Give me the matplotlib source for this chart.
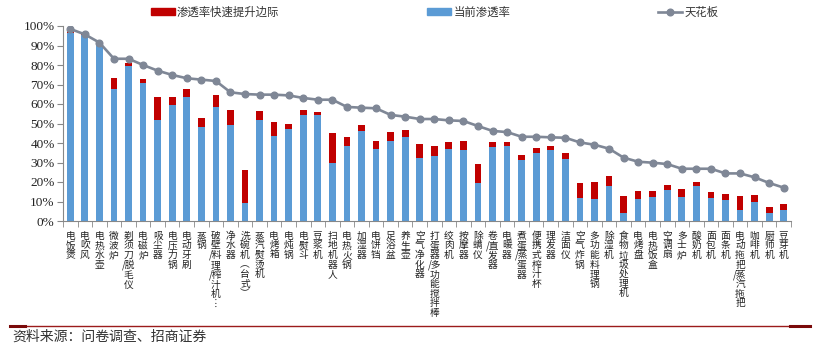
import matplotlib
matplotlib.use('Agg')
import matplotlib.pyplot as plt
from matplotlib.lines import Line2D
from matplotlib.patches import Patch
from matplotlib.ticker import FuncFormatter, MultipleLocator, FixedLocator
import numpy as np

plt.rcParams['font.family'] = ['Noto Sans CJK SC', 'DejaVu Sans']

# data
categories = ['电饭煲', '电吹风', '电热水壶', '微波炉', '剃须刀/脱毛仪', '电磁炉', '吸尘器', '电压力锅',
              '电动牙刷', '蒸锅', '破壁/料理/榨汁机︙', '净水器', '洗碗机︵台式︶', '蒸汽熨烫机', '电烤箱',
              '电炖锅', '电熨斗', '豆浆机', '扫地机器人', '电热火锅', '加湿器', '电饼铛', '足浴盆', '养生壶',
              '空气净化器', '打蛋器/多功能搅拌棒', '绞肉机', '按摩器', '除螨仪', '卷/直发器', '电暖器',
              '煮蛋/蒸蛋器', '便携式榨汁杯', '理发器', '洁面仪', '空气炸锅', '多功能料理锅', '除湿机',
              '食物垃圾处理机', '电烤盘', '电热饭盒', '空调扇', '多士炉', '酸奶机', '面包机', '面条机',
              '电动拖把/蒸汽拖把', '咖啡机', '厨师机', '豆芽机']

current = [96.2, 95.5, 91.0, 67.5, 79.7, 70.6, 51.8, 59.7, 63.4, 48.0,
           58.5, 49.1, 9.1, 51.8, 43.6, 47.0, 54.4, 54.4, 29.6, 38.6,
           46.3, 36.8, 41.2, 42.9, 32.5, 33.3, 36.8, 36.2, 19.5, 37.9,
           38.6, 31.1, 34.7, 36.4, 31.8, 12.0, 11.5, 18.1, 3.9, 11.3,
           12.3, 16.1, 12.3, 18.1, 11.6, 10.6, 5.6, 9.7, 4.1, 5.6]

boost = [1.2, 0.3, 0.3, 5.8, 1.2, 2.0, 11.6, 3.7, 4.1, 4.8,
         6.3, 7.7, 16.9, 4.6, 7.0, 2.9, 2.5, 1.7, 15.5, 4.5,
         3.1, 4.2, 4.3, 3.9, 7.2, 5.3, 3.9, 5.0, 9.9, 2.4,
         1.7, 2.9, 2.7, 2.1, 2.9, 7.5, 8.7, 4.8, 8.9, 4.3,
         3.1, 2.4, 4.1, 2.1, 3.4, 3.1, 7.2, 3.6, 3.1, 2.9]

ceiling = [98.5, 95.7, 91.5, 83.2, 83.2, 80.0, 77.1, 74.9, 73.2, 72.5,
           71.8, 66.0, 65.1, 64.8, 64.8, 64.4, 63.1, 62.2, 62.2, 58.5,
           58.1, 57.8, 54.4, 53.5, 52.3, 52.3, 51.6, 51.3, 48.7, 46.2,
           45.6, 43.2, 43.2, 42.9, 42.7, 40.3, 39.1, 37.1, 32.5, 30.4,
           29.9, 29.2, 26.8, 26.8, 26.8, 24.4, 24.4, 22.4, 19.5, 17.1]

blue = '#5B9BD5'
red = '#C00000'
gray = '#7F8796'
axcol = '#888888'


def vertical(label):
    # one char per line, a slash shares the line with the char after it
    lines = []
    pending = ''
    for ch in label:
        if ch == '/':
            pending = '/'
            continue
        lines.append(pending + ch)
        pending = ''
    return '\n'.join(lines)


fig = plt.figure(figsize=(8.29, 3.51), dpi=100)
ax = fig.add_axes([63/829, 1 - 221/351, 728/829, 195/351])

x = np.arange(len(categories))
ax.bar(x, current, width=0.46, color=blue, zorder=2)
ax.bar(x, boost, width=0.46, bottom=current, color=red, zorder=2)
ax.plot(x, ceiling, color=gray, lw=1.9, marker='o', ms=4.8, mfc=gray, mec=gray, zorder=3)

ax.set_xlim(-0.5, len(categories) - 0.5)
ax.set_ylim(0, 100)
ax.yaxis.set_major_locator(MultipleLocator(10))
ax.yaxis.set_major_formatter(FuncFormatter(lambda v, p: '%d%%' % v))
ax.tick_params(axis='y', direction='out', length=4, color=axcol, pad=2,
               labelsize=9.5, labelcolor='#222222')
for t in ax.yaxis.get_major_ticks():
    t.label1.set_fontfamily('Liberation Serif')

ax.set_xticks(x)
ax.set_xticklabels([vertical(c) for c in categories], fontsize=7, linespacing=0.95,
                   va='top', color='#222222')
ax.tick_params(axis='x', which='major', length=0, pad=7)
ax.xaxis.set_minor_locator(FixedLocator(np.arange(-0.5, len(categories), 1)))
ax.tick_params(axis='x', which='minor', length=4, color=axcol, direction='out')

for s in ['top', 'right']:
    ax.spines[s].set_visible(False)
for s in ['left', 'bottom']:
    ax.spines[s].set_color(axcol)
    ax.spines[s].set_linewidth(0.8)

handles = [Patch(color=red), Patch(color=blue),
           Line2D([], [], color=gray, lw=1.9, marker='o', ms=4.8)]
labels = ['渗透率快速提升边际', '当前渗透率', '天花板']
fig.legend(handles, labels, loc='center left', bbox_to_anchor=(145/829, 1 - 12/351),
           ncol=3, frameon=False, fontsize=8.2, borderpad=0, handlelength=2.1,
           handleheight=0.6, handletextpad=0.2, columnspacing=13, labelcolor='#333333')

# source line at the bottom
fig.add_artist(Line2D([10/829, 810/829], [1 - 326/351] * 2, color='#9B1B1B', lw=1.0))
fig.add_artist(Line2D([10/829, 25/829], [1 - 326/351] * 2, color='#7A0A0A', lw=2.2))
fig.add_artist(Line2D([790/829, 810/829], [1 - 326/351] * 2, color='#7A0A0A', lw=2.2))
fig.text(12/829, 1 - 337/351, '资料来源：问卷调查、招商证券', fontsize=10, va='center',
         ha='left', color='#333333')

fig.savefig('out.png', dpi=100)
